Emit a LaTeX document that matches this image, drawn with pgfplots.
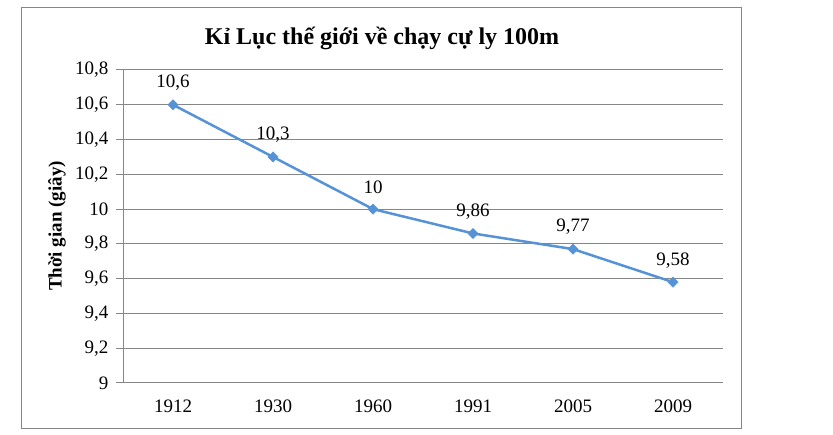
\documentclass[border=0pt]{standalone}
\usepackage{pgfplots}
\pgfplotsset{compat=1.18}
\usepackage{fontspec}
\setmainfont{Liberation Serif}
\definecolor{gridgray}{RGB}{134,134,134}
\definecolor{lineblue}{RGB}{86,146,214}
\begin{document}
\begin{tikzpicture}[x=1pt,y=1pt]
\useasboundingbox (0,0) rectangle (833,434);
\draw[gridgray, line width=1pt] (21,6) rectangle (741,426);
\node[font=\bfseries\fontsize{24}{28}\selectfont] at (382,396) {Kỉ Lục thế giới về chạy cự ly 100m};
\node[font=\bfseries\fontsize{19}{23}\selectfont, rotate=90] at (57,208) {Thời gian (giây)};
\begin{axis}[
  at={(123pt,51pt)}, anchor=south west,
  scale only axis, width=600pt, height=313pt,
  xmin=-0.5, xmax=5.5, ymin=9, ymax=10.8,
  ytick={9,9.2,...,10.8},
  xtick={0,1,2,3,4,5},
  xticklabels={1912,1930,1960,1991,2005,2009},
  axis x line*=bottom, axis y line*=left,
  axis line style={gridgray, line width=1pt, -},
  x axis line style={shorten <=-7pt},
  ymajorgrids, grid style={gridgray, line width=1pt},
  tick style={gridgray, line width=1pt},
  major tick length=7pt,
  xtick style={draw=none},
  tick align=outside,
  every tick label/.append style={font=\fontsize{19}{23}\selectfont},
  /pgf/number format/use comma,
  /pgf/number format/fixed,
  /pgf/number format/precision=1,
  /pgf/number format/assume math mode=true,
  yticklabel style={xshift=-4pt},
  xticklabel style={yshift=-6pt},
  clip=false,
  nodes near coords, point meta=explicit symbolic,
  every node near coord/.append style={font=\fontsize{19}{23}\selectfont, anchor=center, yshift=22pt, text=black},
]
\addplot[color=lineblue, line width=2.5pt, mark=square*, mark size=3.6pt, mark options={fill=lineblue, rotate=45, line width=0.5pt}]
coordinates {
(0,10.6) [10,6]
(1,10.3) [10,3]
(2,10) [10]
(3,9.86) [9,86]
(4,9.77) [9,77]
(5,9.58) [9,58]
};
\end{axis}
\end{tikzpicture}
\end{document}
